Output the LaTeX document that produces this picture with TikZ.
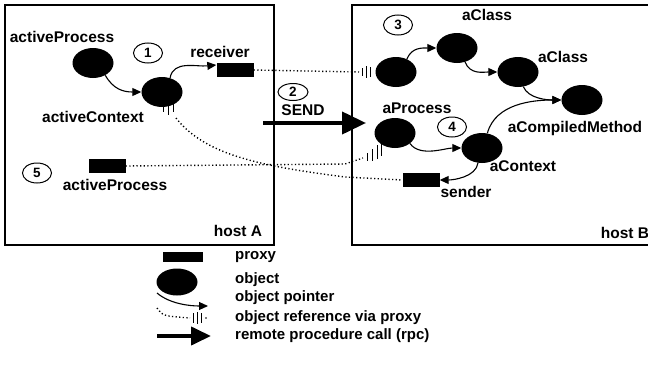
\documentclass[tikz,border=0pt]{standalone}
\usepackage{fontspec}
\setmainfont{Liberation Sans}
\usetikzlibrary{arrows.meta,shapes.geometric}
\tikzset{
  obj/.style={ellipse, fill=black, minimum width=41pt, minimum height=30pt, inner sep=0pt},
  proxy/.style={rectangle, fill=black, minimum width=37pt, minimum height=14pt, inner sep=0pt},
  num/.style={ellipse, draw, line width=1pt, minimum width=29pt, minimum height=20pt, inner sep=0pt, font=\bfseries\fontsize{13.5}{13.5}\selectfont},
  lbl/.style={font=\bfseries\fontsize{15.5}{15.5}\selectfont, inner sep=0pt},
  leg/.style={font=\bfseries\fontsize{15}{15}\selectfont, inner sep=0pt, anchor=west},
  ptr/.style={-{Triangle[length=9pt,width=8pt]}, line width=1.1pt},
  ref/.style={line width=1.4pt, dash pattern=on 1.2pt off 2.4pt},
  rpc/.style={-{Triangle[length=24pt,width=22pt]}, line width=4pt},
  host/.style={draw, line width=1.1pt},
  tick/.style={line width=0.9pt}
}
\begin{document}
\begin{tikzpicture}[x=1pt,y=-1pt]
\useasboundingbox (0,0) rectangle (648,372);
% hosts
\draw[host] (5,5) rectangle (274,245);
\draw[host] (648,5) -- (352,5) -- (352,245) -- (648,245);
\node[lbl] (hostA) at (238,231) {host A};
\node[lbl] (hostB) at (625,233) {host B};

% host A
\node[lbl] (lapA) at (62,37) {activeProcess};
\node[obj] (apA) at (93,63) {};
\node[num] (n1) at (148,53) {1};
\node[obj] (acA) at (162,92) {};
\node[lbl] (lacA) at (93,117) {activeContext};
\node[lbl] (lrecv) at (220,52) {receiver};
\node[proxy] (recv) at (235,70) {};
\node[num] (n5) at (37,173) {5};
\node[proxy] (apP) at (107,166) {};
\node[lbl] (lapP) at (115,185) {activeProcess};

% SEND
\node[num, minimum width=30pt, minimum height=17pt] (n2) at (293,92) {2};
\node[lbl] (send) at (303,110) {SEND};
\coordinate (s1) at (263,123);
\coordinate (s2) at (366,123);
\draw[rpc] (s1) -- (s2);

% host B
\node[num] (n3) at (398,25) {3};
\node[lbl] (lac1) at (487,15) {aClass};
\node[obj] (ac1) at (457,48) {};
\node[obj] (objB) at (396,72) {};
\node[lbl] (lac2) at (563,57) {aClass};
\node[obj] (ac2) at (518,72) {};
\node[obj] (acm) at (582,100) {};
\node[lbl] (lacm) at (575,128) {aCompiledMethod};
\node[lbl] (lap) at (417,108) {aProcess};
\node[obj] (aProc) at (395,133) {};
\node[num] (n4) at (452,127) {4};
\node[obj] (aCtx) at (482,148) {};
\node[lbl] (lctx) at (523,166) {aContext};
\node[proxy] (sender) at (421,180) {};
\node[lbl] (lsender) at (466,192) {sender};

% pointers
\draw[ptr] (apA.-45) .. controls +(8,14) and +(-18,0) .. (acA.west);
\draw[ptr] (acA.60) .. controls +(3,-18) and +(-20,2) .. (recv.165);
\draw[ptr] (objB.50) .. controls +(5,-12) and +(-14,0) .. (ac1.west);
\draw[ptr] (ac1.-60) .. controls +(5,13) and +(-14,0) .. (ac2.west);
\draw[ptr] (ac2.-70) .. controls +(5,12) and +(-14,0) .. (acm.west);
\draw[ptr] (aProc.-35) .. controls +(10,14) and +(-16,0) .. (aCtx.west);
\draw[ptr] (aCtx.70) .. controls +(8,-30) and +(-28,0) .. (acm.west);
\draw[ptr] (aCtx.-105) .. controls +(-2,14) and +(14,0) .. (sender.east);

% proxy references
\coordinate (h1) at (359,72);
\draw[ref] (recv.east) -- (h1);
\foreach \dx/\h in {3/4,7/6,11/5} \draw[tick] (h1)++(\dx,-\h) -- ++(0,2*\h);

\coordinate (h2a) at (345,164);
\coordinate (h2b) at (363,158);
\draw[ref] (apP.east) -- (h2a) -- (h2b);
\foreach \dx/\dy/\h in {4/-1/4,9/-3/6,14/-6/7,18/-8/6} \draw[tick] (h2b)++(\dx,\dy-\h) -- ++(0,2*\h);

\coordinate (h3) at (163,103);
\foreach \dx/\h in {0/6,5/8,10/6} \draw[tick] (h3)++(\dx,0) -- ++(0,\h*1.5);
\coordinate (h3e) at (176,118);
\coordinate (h3m) at (345,177);
\draw[ref] (h3e) .. controls (205,155) and (260,166) .. (h3m) -- (sender.west);

% legend
\node[proxy, minimum width=40pt, minimum height=10pt] (lgp) at (183,257) {};
\node[leg] (tp) at (235,257) {proxy};
\node[obj, minimum height=27pt] (lgo) at (177,282) {};
\node[leg] (to) at (235,280) {object};
\coordinate (lp1) at (157,293);
\coordinate (lp2) at (208,306);
\draw[ptr] (lp1) .. controls (170,304) and (190,306) .. (lp2);
\node[leg] (tptr) at (235,298) {object pointer};
\coordinate (lr1) at (157,308);
\coordinate (lr2) at (190,318);
\draw[ref] (lr1) .. controls (163,316) .. (lr2);
\foreach \dx/\h in {3/5,7/6,11/5} \draw[tick] (lr2)++(\dx,-\h) -- ++(0,2*\h);
\fill (lr2)++(16,0) circle (0.8pt);
\node[leg] (tref) at (235,318) {object reference via proxy};
\coordinate (lc1) at (157,336);
\coordinate (lc2) at (211,336);
\draw[rpc, -{Triangle[length=20pt,width=18pt]}] (lc1) -- (lc2);
\node[leg] (trpc) at (235,336) {remote procedure call (rpc)};
\end{tikzpicture}
\end{document}
